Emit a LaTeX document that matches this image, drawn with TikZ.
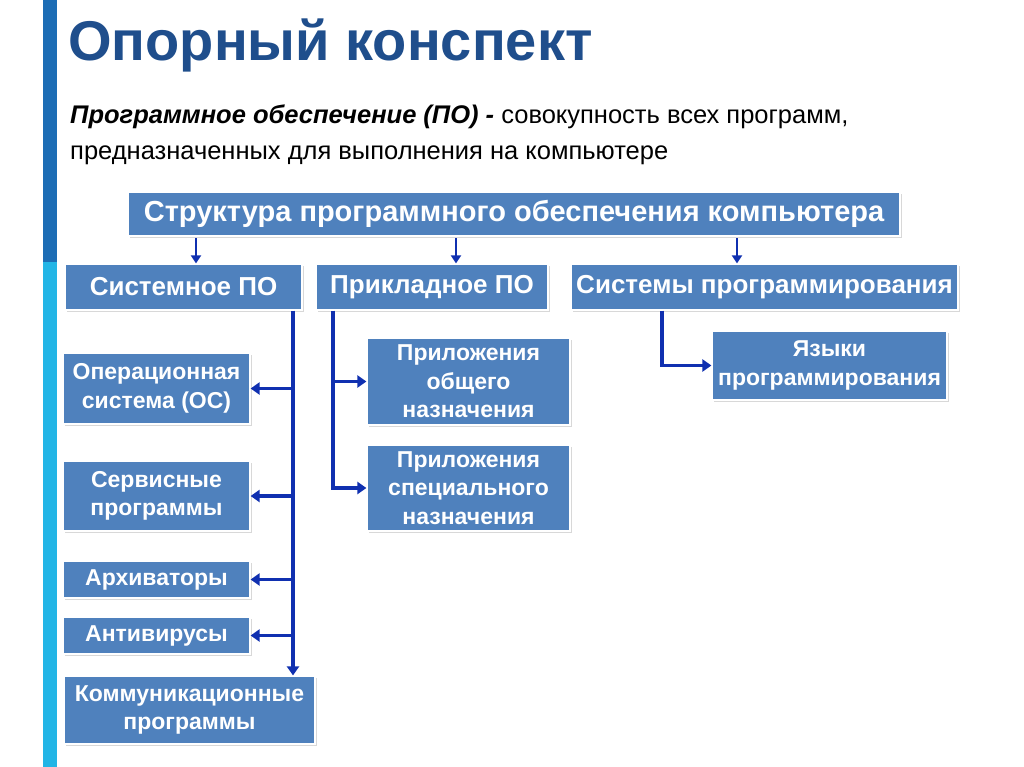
\documentclass[tikz,border=0pt]{standalone}
\usepackage{fontspec}
\setmainfont{Liberation Sans}
\usetikzlibrary{shadows,arrows.meta}
\definecolor{boxblue}{HTML}{4F81BD}
\definecolor{titleblue}{HTML}{1F4E8C}
\definecolor{bardark}{HTML}{1C6DB5}
\definecolor{barlight}{HTML}{22B5E6}
\definecolor{arrowblue}{HTML}{1030B0}
\begin{document}
\begin{tikzpicture}[x=1pt,y=-1pt,
  box/.style={fill=boxblue, draw=white, line width=1.2pt, text=white,
    font=\bfseries, align=center, inner sep=0pt,
    drop shadow={shadow xshift=1.5pt, shadow yshift=-2pt, opacity=0.3, fill=gray}},
  conn/.style={draw=arrowblue, line width=3.4pt},
  arr/.style={conn, -{Triangle[width=12pt,length=9pt]}},
  sarr/.style={draw=arrowblue, line width=2.8pt, -{Triangle[width=10pt,length=8pt]}}]
\useasboundingbox (0,0) rectangle (1024,767);
\fill[white] (0,0) rectangle (1024,767);
% side bar
\fill[bardark] (43,0) rectangle (57,262);
\fill[barlight] (43,262) rectangle (57,767);
% title
\node[anchor=base west, inner sep=0pt, text=titleblue, font=\fontsize{56}{56}\selectfont\bfseries] (title) at (68,61) {Опорный конспект};
% definition
\node[anchor=base west, inner sep=0pt, font=\fontsize{25.5}{25.5}\selectfont] (def1) at (70,124) {\textbf{\textit{Программное обеспечение (ПО) -}} совокупность всех программ,};
\node[anchor=base west, inner sep=0pt, font=\fontsize{25.5}{25.5}\selectfont] (def2) at (70,160) {предназначенных для выполнения на компьютере};
% boxes
\node[box, minimum width=772pt, minimum height=44pt, font=\fontsize{29}{29}\selectfont\bfseries] (struct) at (514,214) {Структура программного обеспечения компьютера};
\node[box, minimum width=237pt, minimum height=46pt, font=\fontsize{26}{26}\selectfont\bfseries] (sys) at (183.5,287) {Системное ПО};
\node[box, minimum width=232pt, minimum height=46pt, font=\fontsize{26}{26}\selectfont\bfseries] (prikl) at (432,287) {Прикладное ПО};
\node[box, minimum width=387pt, minimum height=46pt, font=\fontsize{26}{26}\selectfont\bfseries] (sprog) at (764.5,287) {Системы программирования};
\tikzset{small/.style={box, font=\fontsize{23}{28.5}\selectfont\bfseries}}
\node[small, minimum width=187pt, minimum height=71pt] (os) at (156.5,388.5) {Операционная\\система (ОС)};
\node[small, minimum width=187pt, minimum height=70pt] (serv) at (156.5,496) {Сервисные\\программы};
\node[small, minimum width=187pt, minimum height=37pt] (arch) at (156.5,579.5) {Архиваторы};
\node[small, minimum width=187pt, minimum height=37pt] (anti) at (156.5,635.5) {Антивирусы};
\node[small, minimum width=251pt, minimum height=68pt] (komm) at (189.5,710) {Коммуникационные\\программы};
\node[small, minimum width=203pt, minimum height=87pt] (app1) at (468.5,381.5) {Приложения\\общего\\назначения};
\node[small, minimum width=203pt, minimum height=86pt] (app2) at (468.5,488) {Приложения\\специального\\назначения};
\node[small, minimum width=235pt, minimum height=69pt] (lang) at (829.5,365.5) {Языки\\программирования};
% helper coordinates
\coordinate (a1) at (196,0);
\coordinate (a2) at (456,0);
\coordinate (a3) at (737,0);
\coordinate (c1) at (293,0);
\coordinate (c2) at (333,0);
\coordinate (c3) at (662,0);
% top arrows
\draw[sarr] (struct.south -| a1) ++(0,1.5) -- (sys.north -| a1);
\draw[sarr] (struct.south -| a2) ++(0,1.5) -- (prikl.north -| a2);
\draw[sarr] (struct.south -| a3) ++(0,1.5) -- (sprog.north -| a3);
% system software branch
\draw[arr] (sys.south -| c1) -- (komm.north -| c1);
\draw[arr] (c1 |- os.east) -- (os.east);
\draw[arr] (c1 |- serv.east) -- (serv.east);
\draw[arr] (c1 |- arch.east) -- (arch.east);
\draw[arr] (c1 |- anti.east) -- (anti.east);
% application branch
\draw[arr] (prikl.south -| c2) -- (c2 |- app2.west) -- (app2.west);
\draw[arr] (c2 |- app1.west) -- (app1.west);
% programming systems branch
\draw[arr] (sprog.south -| c3) -- (c3 |- lang.west) -- (lang.west);
\end{tikzpicture}
\end{document}
